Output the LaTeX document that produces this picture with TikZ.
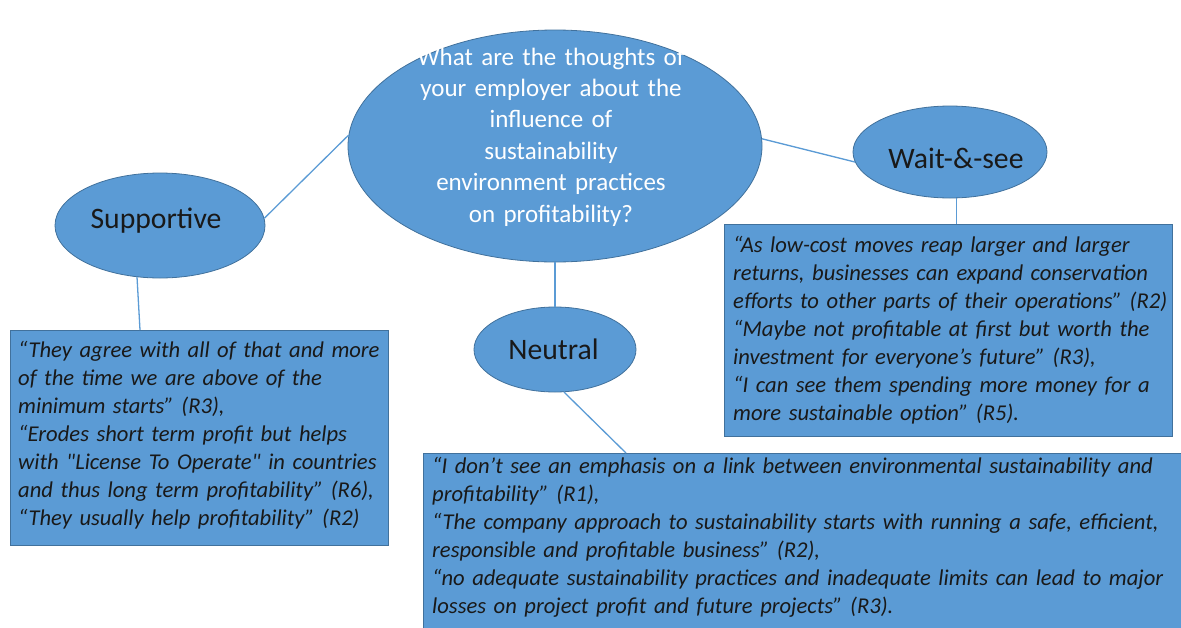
\documentclass[tikz,border=0pt]{standalone}
\usepackage{fontspec}
\setmainfont{Carlito}
\usetikzlibrary{positioning, shapes.geometric}

\definecolor{fillblue}{HTML}{5B9BD5}
\definecolor{edgeblue}{HTML}{41719C}

\begin{document}
\begin{tikzpicture}[x=1pt, y=-1pt,
  topic/.style={ellipse, draw=edgeblue, fill=fillblue, line width=0.8pt, inner sep=0pt},
  tlabel/.style={font=\fontsize{29.7}{34}\selectfont, text=black!90, anchor=base},
  qbox/.style={draw=edgeblue, fill=fillblue, line width=0.8pt, anchor=north west},
  quote/.style={font=\fontsize{22.6}{28}\selectfont\itshape, text=black!90, align=left,
    text width=800, inner sep=0pt, anchor=base west},
  link/.style={draw=fillblue, line width=1.3pt}
]
\useasboundingbox (0,0) rectangle (1181,627);

% Central question
\node[topic, minimum width=414, minimum height=232] (question) at (555,146) {};
\node[font=\fontsize{25}{31.4}\selectfont, text=white, text width=340, align=center,
  inner sep=0pt, anchor=base] (questiontext) at (551,65)
  {What are the thoughts of\\your employer about the\\influence of\\sustainability\\environment practices\\on profitability?};

% Answer categories
\node[topic, minimum width=210, minimum height=105] (supportive) at (160,225.5) {};
\node[tlabel] (suplabel) at (156,228) {Supportive};
\node[topic, minimum width=194, minimum height=92] (wait) at (950,152) {};
\node[tlabel] (waitlabel) at (956,168) {Wait-\&-see};
\node[topic, minimum width=162, minimum height=85] (neutral) at (555,349.5) {};
\node[tlabel] (neutlabel) at (553.5,359) {Neutral};

% Quote boxes
\node[qbox, minimum width=378, minimum height=215] (supbox) at (10,330) {};
\node[qbox, minimum width=448, minimum height=212] (waitbox) at (724,224) {};
\node[qbox, minimum width=800, minimum height=220] (neutbox) at (423,453) {};

\node[quote] (supquote) at (18,357)
  {“They agree with all of that and more\\of the time we are above of the\\minimum starts” (R3),\\“Erodes short term profit but helps\\with \textquotedbl License To Operate\textquotedbl\ in countries\\and thus long term profitability” (R6),\\“They usually help profitability” (R2)};
\node[quote] (waitquote) at (733,252)
  {“As low-cost moves reap larger and larger\\returns, businesses can expand conservation\\efforts to other parts of their operations” (R2)\\“Maybe not profitable at first but worth the\\investment for everyone’s future” (R3),\\“I can see them spending more money for a\\more sustainable option” (R5).};
\node[quote] (neutquote) at (432,473)
  {“I don’t see an emphasis on a link between environmental sustainability and\\profitability” (R1),\\“The company approach to sustainability starts with running a safe, efficient,\\responsible and profitable business” (R2),\\“no adequate sustainability practices and inadequate limits can lead to major\\losses on project profit and future projects” (R3).};

% Links
\draw[link] (question.177.5) -- (supportive.4.7);
\draw[link] (question.2.3) -- (wait.186.6);
\draw[link] (question.south) -- (neutral.north);
\draw[link] (supportive.246) -- ([xshift=130pt]supbox.north west);
\draw[link] (wait.278) -- (waitbox.north -| wait.278);
\draw[link] (neutral.282) -- ([xshift=203pt]neutbox.north west);
\end{tikzpicture}
\end{document}
